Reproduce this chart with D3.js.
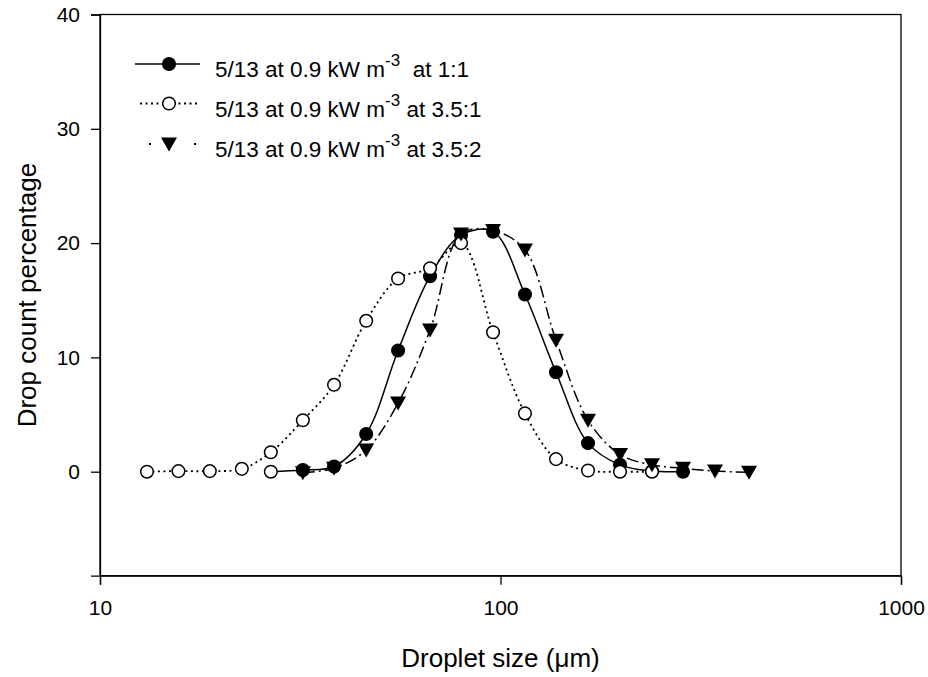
<!DOCTYPE html>
<html>
<head>
<meta charset="utf-8">
<script src="https://cdn.jsdelivr.net/npm/d3@7"></script>
<style>
  html, body { margin: 0; padding: 0; background: #fff; }
  svg { display: block; font-family: "Liberation Sans", Arial, sans-serif; }
</style>
</head>
<body>
<svg id="chart" width="928" height="677"></svg>
<script>
// ---- data ----
// 5/13 at 0.9 kW m-3 at 1:1 (filled circles)
const s11Sizes  = [26.7, 32.1, 38.4, 46.2, 55.5, 66.7, 79.7, 95.8, 115.1, 137.6, 165.4, 198.8, 238.9, 285.6];
const s11Values = [0.0, 0.15, 0.45, 3.3, 10.6, 17.1, 20.7, 21.0, 15.5, 8.7, 2.5, 0.6, 0.05, 0.0];

// 5/13 at 0.9 kW m-3 at 3.5:1 (open circles)
const s351Sizes  = [13.1, 15.7, 18.8, 22.6, 26.7, 32.1, 38.4, 46.2, 55.5, 66.7, 79.7, 95.8, 115.1, 137.6, 165.4, 198.8, 238.9];
const s351Values = [0.0, 0.05, 0.05, 0.25, 1.7, 4.5, 7.6, 13.2, 16.9, 17.8, 20.0, 12.2, 5.1, 1.1, 0.1, 0.0, 0.0];

// 5/13 at 0.9 kW m-3 at 3.5:2 (filled down-triangles)
const s352Sizes  = [32.1, 38.4, 46.2, 55.5, 66.7, 79.7, 95.8, 115.1, 137.6, 165.4, 198.8, 238.9, 285.6, 343.2, 417.4];
const s352Values = [-0.1, 0.3, 1.9, 6.0, 12.4, 20.8, 21.1, 19.4, 11.5, 4.5, 1.5, 0.6, 0.3, 0.05, -0.05];

const xTicks = [10, 100, 1000];
const yTicks = [0, 10, 20, 30, 40];
const legendLabels = ["5/13 at 0.9 kW m", "5/13 at 0.9 kW m", "5/13 at 0.9 kW m"];
const legendSup = ["-3", "-3", "-3"];
const legendTail = ["\u00a0 at 1:1", " at 3.5:1", " at 3.5:2"];
const xTitle = "Droplet size (\u03bcm)";
const yTitle = "Drop count percentage";

// ---- layout ----
const svg = d3.select("#chart");
const L = 100, R = 901, T = 14.5, B = 575.7;
const x = d3.scaleLog().domain([10, 1000]).range([L, R]);
const y = d3.scaleLinear().domain([-9.1, 40]).range([B, T]);
const FONT = "Liberation Sans, Arial, sans-serif";

const series = [
  { xs: s11Sizes, ys: s11Values, dash: null, sym: "fcircle", w: 1.5 },
  { xs: s351Sizes, ys: s351Values, dash: "2,3.5", sym: "ocircle", w: 1.8 },
  { xs: s352Sizes, ys: s352Values, dash: "12,4,2,4", sym: "triangle", w: 1.5 }
];

// frame
svg.append("rect").attr("x", L).attr("y", T).attr("width", R - L).attr("height", B - T)
  .attr("fill", "none").attr("stroke", "#000").attr("stroke-width", 1.3);

// axes
const xAxis = d3.axisBottom(x).tickValues(xTicks).tickFormat(d3.format("d")).tickSize(9).tickPadding(15);
const gx = svg.append("g").attr("transform", `translate(0,${B})`).call(xAxis);
gx.select(".domain").attr("stroke-width", 1.3);
gx.selectAll(".tick line").attr("stroke-width", 1.3);
gx.selectAll(".tick text").attr("font-size", 21).attr("font-family", FONT).attr("fill", "#000");

const yAxis = d3.axisLeft(y).tickValues(yTicks).tickFormat(d3.format("d")).tickSize(9).tickPadding(11);
const gy = svg.append("g").attr("transform", `translate(${L},0)`).call(yAxis);
gy.select(".domain").attr("stroke-width", 1.3);
gy.selectAll(".tick line").attr("stroke-width", 1.3);
gy.selectAll(".tick text").attr("font-size", 21).attr("font-family", FONT).attr("fill", "#000");

// titles
svg.append("text").attr("x", (L + R) / 2).attr("y", 667).attr("text-anchor", "middle")
  .attr("font-size", 26).text(xTitle);
svg.append("text").attr("transform", `translate(36,${(T + B) / 2}) rotate(-90)`).attr("text-anchor", "middle")
  .attr("font-size", 26).text(yTitle);

// symbols
const triPath = "M-8,-6.5L8,-6.5L0,7.5Z";
function drawSym(g, sym, cx, cy, hollow) {
  if (sym === "fcircle") {
    g.append("circle").attr("cx", cx).attr("cy", cy).attr("r", 6.3)
      .attr("fill", hollow ? "#fff" : "#000").attr("stroke", "#000").attr("stroke-width", 1.5);
  } else if (sym === "ocircle") {
    g.append("circle").attr("cx", cx).attr("cy", cy).attr("r", 6.3)
      .attr("fill", "#fff").attr("stroke", "#000").attr("stroke-width", 1.5);
  } else {
    g.append("path").attr("d", triPath).attr("transform", `translate(${cx},${cy})`).attr("fill", "#000");
  }
}

const line = d3.line().curve(d3.curveCatmullRom.alpha(0.5));
series.forEach((s, si) => {
  const g = svg.append("g");
  const pts = s.xs.map((d, i) => [x(d), y(s.ys[i])]);
  g.append("path").attr("d", line(pts)).attr("fill", "none").attr("stroke", "#000")
    .attr("stroke-width", s.w).attr("stroke-dasharray", s.dash);
  pts.forEach((p, i) => drawSym(g, s.sym, p[0], p[1], si === 0 && i === 0));
});

// legend
const lg = svg.append("g");
const rowY = [64, 103.5, 144];
series.forEach((s, i) => {
  const yy = rowY[i];
  if (i === 2) {
    lg.append("line").attr("x1", 149).attr("x2", 196).attr("y1", yy).attr("y2", yy)
      .attr("stroke", "#000").attr("stroke-width", 1.8).attr("stroke-dasharray", "2,43");
  } else {
    lg.append("line").attr("x1", i === 0 ? 135 : 140).attr("x2", 200).attr("y1", yy).attr("y2", yy)
      .attr("stroke", "#000").attr("stroke-width", s.w).attr("stroke-dasharray", s.dash);
  }
  drawSym(lg, s.sym, 169, yy, false);
  const t = lg.append("text").attr("x", 215).attr("y", yy + 13).attr("font-size", 22.5);
  t.append("tspan").text(legendLabels[i]);
  t.append("tspan").attr("font-size", 17).attr("dy", -11).text(legendSup[i]);
  t.append("tspan").attr("dy", 11).text(legendTail[i]);
});
</script>
</body>
</html>
